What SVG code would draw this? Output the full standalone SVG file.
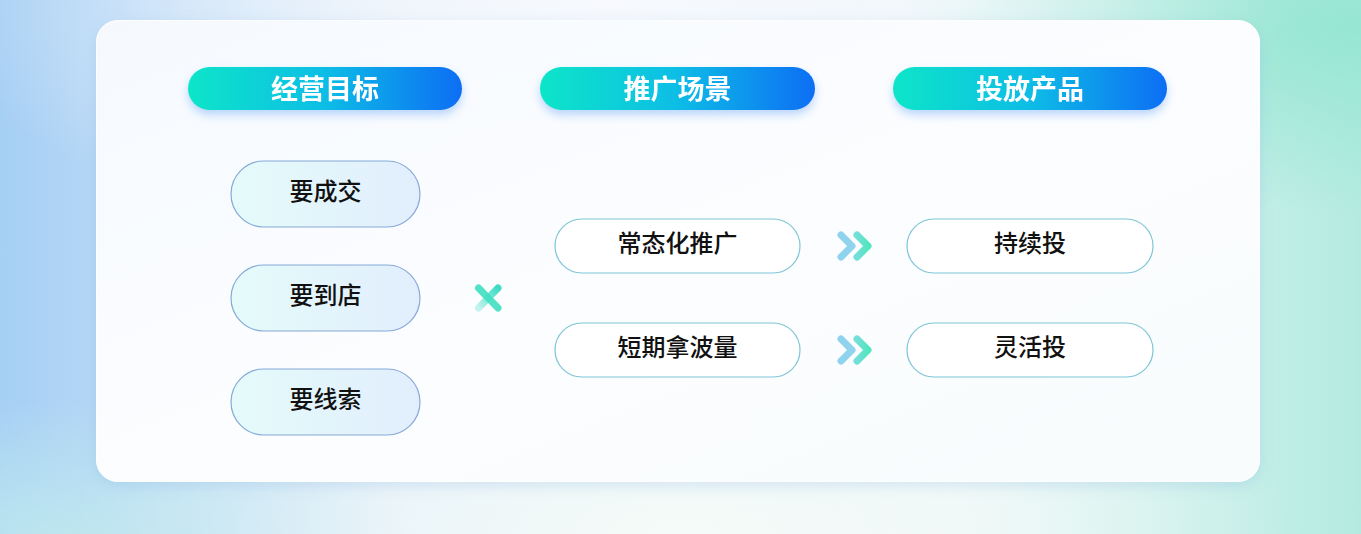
<svg xmlns="http://www.w3.org/2000/svg" width="1361" height="534" viewBox="0 0 1361 534">
<defs>
  <linearGradient id="bgBase" x1="0" y1="0" x2="1" y2="0">
    <stop offset="0" stop-color="#a6cff4"/>
    <stop offset="0.3" stop-color="#e2eefa"/>
    <stop offset="0.7" stop-color="#eef7f9"/>
    <stop offset="1" stop-color="#b4ebe0"/>
  </linearGradient>
  <radialGradient id="bgTop" cx="0.45" cy="0" r="0.5">
    <stop offset="0" stop-color="#f7f9fd" stop-opacity="1"/>
    <stop offset="1" stop-color="#f7f9fd" stop-opacity="0"/>
  </radialGradient>
  <radialGradient id="bgBottom" cx="0.5" cy="1" r="0.45">
    <stop offset="0" stop-color="#f4fbf8" stop-opacity="1"/>
    <stop offset="1" stop-color="#f4fbf8" stop-opacity="0"/>
  </radialGradient>
  <radialGradient id="bgTR" cx="1" cy="0.05" r="0.35">
    <stop offset="0" stop-color="#96e6d2" stop-opacity="1"/>
    <stop offset="1" stop-color="#96e6d2" stop-opacity="0"/>
  </radialGradient>
  <radialGradient id="bgBL" cx="0.05" cy="1" r="0.25">
    <stop offset="0" stop-color="#bde6ef" stop-opacity="1"/>
    <stop offset="1" stop-color="#bde6ef" stop-opacity="0"/>
  </radialGradient>
  <linearGradient id="cardFill" x1="0" y1="0" x2="1" y2="1">
    <stop offset="0" stop-color="#f5f9fe"/>
    <stop offset="0.5" stop-color="#fcfdff"/>
    <stop offset="1" stop-color="#f8fcfd"/>
  </linearGradient>
  <linearGradient id="headGrad" x1="0" y1="0" x2="1" y2="0">
    <stop offset="0" stop-color="#0fe5c8"/>
    <stop offset="0.5" stop-color="#08bde6"/>
    <stop offset="1" stop-color="#0a6ef4"/>
  </linearGradient>
  <linearGradient id="goalFill" x1="0" y1="0" x2="1" y2="0">
    <stop offset="0" stop-color="#e4fbfa"/>
    <stop offset="1" stop-color="#e2eefd"/>
  </linearGradient>
  <linearGradient id="chev2" x1="0" y1="0" x2="1" y2="0">
    <stop offset="0" stop-color="#72dfd8"/>
    <stop offset="1" stop-color="#52e6bf"/>
  </linearGradient>
  <linearGradient id="xFade" x1="1" y1="0" x2="0" y2="1">
    <stop offset="0" stop-color="#3fdcc4"/>
    <stop offset="1" stop-color="#3fdcc4" stop-opacity="0.3"/>
  </linearGradient>
  <filter id="cardShadow" x="-5%" y="-10%" width="110%" height="125%">
    <feGaussianBlur in="SourceAlpha" stdDeviation="7"/>
    <feOffset dy="4" result="b"/>
    <feFlood flood-color="#7aa8dc" flood-opacity="0.25"/>
    <feComposite operator="in" in2="b"/>
    <feMerge><feMergeNode/><feMergeNode in="SourceGraphic"/></feMerge>
  </filter>
  <filter id="headShadow" x="-10%" y="-30%" width="120%" height="180%">
    <feGaussianBlur in="SourceAlpha" stdDeviation="4"/>
    <feOffset dy="5" result="b"/>
    <feFlood flood-color="#2a7ff0" flood-opacity="0.3"/>
    <feComposite operator="in" in2="b"/>
    <feMerge><feMergeNode/><feMergeNode in="SourceGraphic"/></feMerge>
  </filter>
  <style>
    .head-text { font-family: "Noto Sans CJK SC", "Noto Sans", sans-serif; font-weight: 700; font-size: 27px; fill: #ffffff; text-anchor: middle; }
    .node-text { font-family: "Noto Sans CJK SC", "Noto Sans", sans-serif; font-weight: 500; font-size: 24px; fill: #111111; text-anchor: middle; }
    .goal { fill: url(#goalFill); stroke: #86a9d8; stroke-width: 1.2; }
    .scene { fill: #ffffff; stroke: #7fc6d6; stroke-width: 1.2; }
    .head { fill: url(#headGrad); }
    .chev { fill: none; stroke-width: 7; stroke-linecap: round; stroke-linejoin: round; }
  </style>
</defs>

<!-- background -->
<rect x="0" y="0" width="1361" height="534" fill="url(#bgBase)"/>
<rect x="0" y="0" width="1361" height="534" fill="url(#bgTR)"/>
<rect x="0" y="0" width="1361" height="534" fill="url(#bgBL)"/>
<rect x="0" y="0" width="1361" height="534" fill="url(#bgTop)"/>
<rect x="0" y="0" width="1361" height="534" fill="url(#bgBottom)"/>

<!-- card -->
<g id="card">
  <rect x="96" y="20" width="1164" height="462" rx="22" fill="url(#cardFill)" filter="url(#cardShadow)"/>
  <rect x="96.5" y="20.5" width="1163" height="461" rx="22" fill="none" stroke="#ffffff" stroke-opacity="0.7"/>
</g>

<!-- headers -->
<g id="head-goal" filter="url(#headShadow)">
  <rect class="head" x="188" y="67" width="274" height="43" rx="21.5"/>
  <text class="head-text" x="325" y="98.5">经营目标</text>
</g>
<g id="head-scene" filter="url(#headShadow)">
  <rect class="head" x="540" y="67" width="275" height="43" rx="21.5"/>
  <text class="head-text" x="677.5" y="98.5">推广场景</text>
</g>
<g id="head-product" filter="url(#headShadow)">
  <rect class="head" x="893" y="67" width="274" height="43" rx="21.5"/>
  <text class="head-text" x="1030" y="98.5">投放产品</text>
</g>

<!-- goal nodes -->
<g id="goal-deal">
  <rect class="goal" x="231" y="161" width="189" height="66" rx="33"/>
  <text class="node-text" x="325.5" y="200">要成交</text>
</g>
<g id="goal-store">
  <rect class="goal" x="231" y="265" width="189" height="66" rx="33"/>
  <text class="node-text" x="325.5" y="304">要到店</text>
</g>
<g id="goal-lead">
  <rect class="goal" x="231" y="369" width="189" height="66" rx="33"/>
  <text class="node-text" x="325.5" y="408">要线索</text>
</g>

<!-- scene nodes -->
<g id="scene-regular">
  <rect class="scene" x="555" y="219" width="245" height="54" rx="27"/>
  <text class="node-text" x="677.5" y="252">常态化推广</text>
</g>
<g id="scene-short">
  <rect class="scene" x="555" y="323" width="245" height="54" rx="27"/>
  <text class="node-text" x="677.5" y="356">短期拿波量</text>
</g>

<!-- product nodes -->
<g id="product-continuous">
  <rect class="scene" x="907" y="219" width="246" height="54" rx="27"/>
  <text class="node-text" x="1030" y="252">持续投</text>
</g>
<g id="product-flexible">
  <rect class="scene" x="907" y="323" width="246" height="54" rx="27"/>
  <text class="node-text" x="1030" y="356">灵活投</text>
</g>

<!-- connectors -->
<g id="connectors">
  <g id="cross">
    <line x1="478.5" y1="308" x2="498" y2="288" stroke="url(#xFade)" stroke-width="7" stroke-linecap="round"/>
    <line x1="478.5" y1="288" x2="498" y2="308" stroke="#3fe0c2" stroke-width="7" stroke-linecap="round" opacity="0.9"/>
  </g>
  <g id="chev-top">
    <polyline class="chev" points="841,235 852,246 841,257" stroke="#8fd3ee"/>
    <polyline class="chev" points="857,235 868,246 857,257" stroke="url(#chev2)"/>
  </g>
  <g id="chev-bottom">
    <polyline class="chev" points="841,339 852,350 841,361" stroke="#8fd3ee"/>
    <polyline class="chev" points="857,339 868,350 857,361" stroke="url(#chev2)"/>
  </g>
</g>
</svg>
